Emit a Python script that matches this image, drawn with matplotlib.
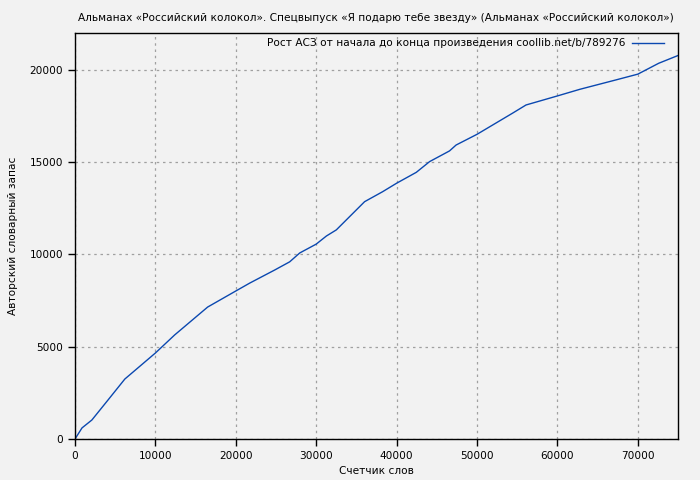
import matplotlib.pyplot as plt

# word counter vs. author vocabulary
words = [0, 870, 2100, 4100, 6200, 10000, 12400, 16500, 20000, 21740, 24850,
         26700, 27950, 30000, 31270, 32500, 36020, 38260, 40000, 42450, 44100,
         46580, 47400, 50000, 54400, 56100, 60000, 62800, 67300, 70000, 72600, 75000]
vocab = [0, 600, 1030, 2110, 3250, 4660, 5640, 7150, 8020, 8450, 9160,
         9600, 10080, 10560, 11000, 11330, 12860, 13400, 13860, 14450, 15030,
         15610, 15930, 16510, 17650, 18100, 18590, 18950, 19460, 19770, 20360, 20780]

title = 'Альманах «Российский колокол». Спецвыпуск «Я подарю тебе звезду» (Альманах «Российский колокол»)'
legend_label = 'Рост АСЗ от начала до конца произведения coollib.net/b/789276'

bg = '#f2f2f2'
plt.rcParams['font.family'] = ['DejaVu Sans']
fs = 7.6

fig = plt.figure(figsize=(7, 4.8), dpi=100, facecolor=bg)
ax = fig.add_axes([75 / 700, 41 / 480, 603 / 700, 406 / 480], facecolor=bg)

ax.plot(words, vocab, color='#0b48b0', linewidth=1, label=legend_label)

ax.set_xlim(0, 75000)
ax.set_ylim(0, 22000)
ax.set_xticks(range(0, 75000, 10000))
ax.set_yticks(range(0, 22000, 5000))
ax.tick_params(direction='out', length=5, width=1, colors='black', labelsize=fs)
ax.grid(True, color='#a0a0a0', linestyle=(0, (2, 3)), linewidth=0.9)
for s in ax.spines.values():
    s.set_linewidth(1)

ax.set_xlabel('Счетчик слов', fontsize=fs, labelpad=4)
ax.set_ylabel('Авторский словарный запас', fontsize=fs, labelpad=8)
fig.text(376 / 700, 1 - 18 / 480, title, ha='center', va='center', fontsize=7.6)

ax.legend(loc='upper right', frameon=False, markerfirst=False, handlelength=3.0,
          borderaxespad=0.2, borderpad=0.3, fontsize=fs, handletextpad=0.6,
          bbox_to_anchor=(0.985, 1.0))

fig.savefig('out.png', dpi=100, facecolor=bg)
